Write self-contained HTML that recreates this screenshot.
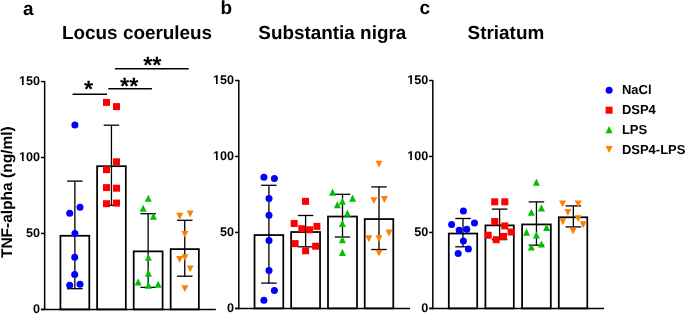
<!DOCTYPE html>
<html><head><meta charset="utf-8"><title>TNF-alpha</title>
<style>
html,body{margin:0;padding:0;background:#fff;}
body{width:685px;height:314px;overflow:hidden;}
svg{display:block;}
text{font-family:"Liberation Sans", sans-serif;fill:#000;text-rendering:geometricPrecision;}
svg{will-change:transform;}
</style></head><body>
<svg width="685" height="314" viewBox="0 0 685 314">
<rect width="685" height="314" fill="#fff"/>
<rect x="60.44" y="235.78" width="28.86" height="73.62" fill="#fff" stroke="#000" stroke-width="1.75"/>
<rect x="97.10" y="166.18" width="28.70" height="143.22" fill="#fff" stroke="#000" stroke-width="1.75"/>
<rect x="133.70" y="251.38" width="28.90" height="58.02" fill="#fff" stroke="#000" stroke-width="1.75"/>
<rect x="170.65" y="249.12" width="28.20" height="60.27" fill="#fff" stroke="#000" stroke-width="1.75"/>
<line x1="74.87" y1="181.10" x2="74.87" y2="288.70" stroke="#000" stroke-width="1.3"/>
<line x1="67.12" y1="181.10" x2="82.62" y2="181.10" stroke="#000" stroke-width="1.3"/>
<line x1="67.12" y1="288.70" x2="82.62" y2="288.70" stroke="#000" stroke-width="1.3"/>
<line x1="111.45" y1="125.20" x2="111.45" y2="205.40" stroke="#000" stroke-width="1.3"/>
<line x1="103.70" y1="125.20" x2="119.20" y2="125.20" stroke="#000" stroke-width="1.3"/>
<line x1="103.70" y1="205.40" x2="119.20" y2="205.40" stroke="#000" stroke-width="1.3"/>
<line x1="148.15" y1="213.70" x2="148.15" y2="287.40" stroke="#000" stroke-width="1.3"/>
<line x1="140.40" y1="213.70" x2="155.90" y2="213.70" stroke="#000" stroke-width="1.3"/>
<line x1="140.40" y1="287.40" x2="155.90" y2="287.40" stroke="#000" stroke-width="1.3"/>
<line x1="184.75" y1="220.30" x2="184.75" y2="276.20" stroke="#000" stroke-width="1.3"/>
<line x1="177.00" y1="220.30" x2="192.50" y2="220.30" stroke="#000" stroke-width="1.3"/>
<line x1="177.00" y1="276.20" x2="192.50" y2="276.20" stroke="#000" stroke-width="1.3"/>
<line x1="44.65" y1="81.00" x2="44.65" y2="310.15" stroke="#000" stroke-width="1.5"/>
<line x1="40.95" y1="309.40" x2="215.85" y2="309.40" stroke="#000" stroke-width="1.5"/>
<line x1="40.95" y1="309.40" x2="44.65" y2="309.40" stroke="#000" stroke-width="1.5"/>
<text x="40.10" y="313.30" font-size="12.6" font-weight="bold" text-anchor="end" >0</text>
<line x1="40.95" y1="233.45" x2="44.65" y2="233.45" stroke="#000" stroke-width="1.5"/>
<text x="40.10" y="237.35" font-size="12.6" font-weight="bold" text-anchor="end" >50</text>
<line x1="40.95" y1="157.50" x2="44.65" y2="157.50" stroke="#000" stroke-width="1.5"/>
<text x="40.10" y="161.40" font-size="12.6" font-weight="bold" text-anchor="end" >100</text>
<rect x="18.78" y="158.40" width="3.22" height="4.0" fill="#fff"/>
<rect x="23.77" y="158.40" width="2.29" height="4.0" fill="#fff"/>
<line x1="40.95" y1="81.55" x2="44.65" y2="81.55" stroke="#000" stroke-width="1.5"/>
<text x="40.10" y="85.45" font-size="12.6" font-weight="bold" text-anchor="end" >150</text>
<rect x="18.78" y="82.45" width="3.22" height="4.0" fill="#fff"/>
<rect x="23.77" y="82.45" width="2.29" height="4.0" fill="#fff"/>
<circle cx="74.90" cy="125.00" r="3.5" fill="#0000ff"/>
<circle cx="80.00" cy="207.30" r="3.5" fill="#0000ff"/>
<circle cx="69.70" cy="213.20" r="3.5" fill="#0000ff"/>
<circle cx="74.90" cy="233.60" r="3.5" fill="#0000ff"/>
<circle cx="74.70" cy="257.20" r="3.5" fill="#0000ff"/>
<circle cx="74.70" cy="274.60" r="3.5" fill="#0000ff"/>
<circle cx="69.70" cy="285.30" r="3.5" fill="#0000ff"/>
<circle cx="80.00" cy="284.30" r="3.5" fill="#0000ff"/>
<rect x="103.00" y="98.90" width="7" height="7" fill="#ff0000"/>
<rect x="113.00" y="103.10" width="7" height="7" fill="#ff0000"/>
<rect x="113.00" y="158.30" width="7" height="7" fill="#ff0000"/>
<rect x="103.00" y="166.20" width="7" height="7" fill="#ff0000"/>
<rect x="103.00" y="184.10" width="7" height="7" fill="#ff0000"/>
<rect x="113.00" y="184.70" width="7" height="7" fill="#ff0000"/>
<rect x="103.00" y="200.20" width="7" height="7" fill="#ff0000"/>
<rect x="113.00" y="199.60" width="7" height="7" fill="#ff0000"/>
<path d="M148.30 194.70L151.80 201.80L144.80 201.80Z" fill="#00c000"/>
<path d="M143.10 204.75L146.60 211.85L139.60 211.85Z" fill="#00c000"/>
<path d="M153.40 212.55L156.90 219.65L149.90 219.65Z" fill="#00c000"/>
<path d="M148.40 253.75L151.90 260.85L144.90 260.85Z" fill="#00c000"/>
<path d="M148.40 269.55L151.90 276.65L144.90 276.65Z" fill="#00c000"/>
<path d="M138.10 278.35L141.60 285.45L134.60 285.45Z" fill="#00c000"/>
<path d="M148.40 281.55L151.90 288.65L144.90 288.65Z" fill="#00c000"/>
<path d="M158.20 280.75L161.70 287.85L154.70 287.85Z" fill="#00c000"/>
<path d="M176.20 212.85L183.20 212.85L179.70 219.75Z" fill="#ff8000"/>
<path d="M186.70 210.45L193.70 210.45L190.20 217.35Z" fill="#ff8000"/>
<path d="M181.40 230.95L188.40 230.95L184.90 237.85Z" fill="#ff8000"/>
<path d="M176.20 256.05L183.20 256.05L179.70 262.95Z" fill="#ff8000"/>
<path d="M181.40 254.15L188.40 254.15L184.90 261.05Z" fill="#ff8000"/>
<path d="M186.70 265.45L193.70 265.45L190.20 272.35Z" fill="#ff8000"/>
<path d="M181.40 285.15L188.40 285.15L184.90 292.05Z" fill="#ff8000"/>
<rect x="254.52" y="235.07" width="28.75" height="73.32" fill="#fff" stroke="#000" stroke-width="1.75"/>
<rect x="291.15" y="232.03" width="28.90" height="76.37" fill="#fff" stroke="#000" stroke-width="1.75"/>
<rect x="328.00" y="216.53" width="29.00" height="91.87" fill="#fff" stroke="#000" stroke-width="1.75"/>
<rect x="364.73" y="219.07" width="28.55" height="89.32" fill="#fff" stroke="#000" stroke-width="1.75"/>
<line x1="268.90" y1="185.30" x2="268.90" y2="283.10" stroke="#000" stroke-width="1.3"/>
<line x1="261.15" y1="185.30" x2="276.65" y2="185.30" stroke="#000" stroke-width="1.3"/>
<line x1="261.15" y1="283.10" x2="276.65" y2="283.10" stroke="#000" stroke-width="1.3"/>
<line x1="305.60" y1="215.50" x2="305.60" y2="246.80" stroke="#000" stroke-width="1.3"/>
<line x1="297.85" y1="215.50" x2="313.35" y2="215.50" stroke="#000" stroke-width="1.3"/>
<line x1="297.85" y1="246.80" x2="313.35" y2="246.80" stroke="#000" stroke-width="1.3"/>
<line x1="342.50" y1="194.30" x2="342.50" y2="237.00" stroke="#000" stroke-width="1.3"/>
<line x1="334.75" y1="194.30" x2="350.25" y2="194.30" stroke="#000" stroke-width="1.3"/>
<line x1="334.75" y1="237.00" x2="350.25" y2="237.00" stroke="#000" stroke-width="1.3"/>
<line x1="379.00" y1="186.90" x2="379.00" y2="249.50" stroke="#000" stroke-width="1.3"/>
<line x1="371.25" y1="186.90" x2="386.75" y2="186.90" stroke="#000" stroke-width="1.3"/>
<line x1="371.25" y1="249.50" x2="386.75" y2="249.50" stroke="#000" stroke-width="1.3"/>
<line x1="238.80" y1="79.95" x2="238.80" y2="309.15" stroke="#000" stroke-width="1.5"/>
<line x1="235.10" y1="308.40" x2="410.00" y2="308.40" stroke="#000" stroke-width="1.5"/>
<line x1="235.10" y1="308.40" x2="238.80" y2="308.40" stroke="#000" stroke-width="1.5"/>
<text x="234.10" y="312.30" font-size="12.6" font-weight="bold" text-anchor="end" >0</text>
<line x1="235.10" y1="232.43" x2="238.80" y2="232.43" stroke="#000" stroke-width="1.5"/>
<text x="234.10" y="236.33" font-size="12.6" font-weight="bold" text-anchor="end" >50</text>
<line x1="235.10" y1="156.47" x2="238.80" y2="156.47" stroke="#000" stroke-width="1.5"/>
<text x="234.10" y="160.37" font-size="12.6" font-weight="bold" text-anchor="end" >100</text>
<rect x="212.78" y="157.37" width="3.22" height="4.0" fill="#fff"/>
<rect x="217.77" y="157.37" width="2.29" height="4.0" fill="#fff"/>
<line x1="235.10" y1="80.50" x2="238.80" y2="80.50" stroke="#000" stroke-width="1.5"/>
<text x="234.10" y="84.40" font-size="12.6" font-weight="bold" text-anchor="end" >150</text>
<rect x="212.78" y="81.40" width="3.22" height="4.0" fill="#fff"/>
<rect x="217.77" y="81.40" width="2.29" height="4.0" fill="#fff"/>
<circle cx="263.90" cy="177.30" r="3.5" fill="#0000ff"/>
<circle cx="274.40" cy="178.60" r="3.5" fill="#0000ff"/>
<circle cx="269.00" cy="198.50" r="3.5" fill="#0000ff"/>
<circle cx="269.00" cy="215.20" r="3.5" fill="#0000ff"/>
<circle cx="269.00" cy="240.60" r="3.5" fill="#0000ff"/>
<circle cx="269.00" cy="270.60" r="3.5" fill="#0000ff"/>
<circle cx="274.40" cy="290.50" r="3.5" fill="#0000ff"/>
<circle cx="263.90" cy="300.30" r="3.5" fill="#0000ff"/>
<rect x="302.05" y="197.85" width="7" height="7" fill="#ff0000"/>
<rect x="290.70" y="220.00" width="7" height="7" fill="#ff0000"/>
<rect x="313.40" y="222.90" width="7" height="7" fill="#ff0000"/>
<rect x="298.30" y="225.20" width="7" height="7" fill="#ff0000"/>
<rect x="306.00" y="226.30" width="7" height="7" fill="#ff0000"/>
<rect x="291.60" y="240.10" width="7" height="7" fill="#ff0000"/>
<rect x="312.10" y="242.70" width="7" height="7" fill="#ff0000"/>
<rect x="302.10" y="247.30" width="7" height="7" fill="#ff0000"/>
<path d="M332.50 188.55L336.00 195.65L329.00 195.65Z" fill="#00c000"/>
<path d="M352.60 194.55L356.10 201.65L349.10 201.65Z" fill="#00c000"/>
<path d="M342.40 197.65L345.90 204.75L338.90 204.75Z" fill="#00c000"/>
<path d="M337.30 201.25L340.80 208.35L333.80 208.35Z" fill="#00c000"/>
<path d="M347.40 209.55L350.90 216.65L343.90 216.65Z" fill="#00c000"/>
<path d="M342.40 219.85L345.90 226.95L338.90 226.95Z" fill="#00c000"/>
<path d="M342.40 236.10L345.90 243.20L338.90 243.20Z" fill="#00c000"/>
<path d="M342.40 248.85L345.90 255.95L338.90 255.95Z" fill="#00c000"/>
<path d="M375.50 160.65L382.50 160.65L379.00 167.55Z" fill="#ff8000"/>
<path d="M370.40 197.15L377.40 197.15L373.90 204.05Z" fill="#ff8000"/>
<path d="M380.90 196.05L387.90 196.05L384.40 202.95Z" fill="#ff8000"/>
<path d="M385.50 229.60L392.50 229.60L389.00 236.50Z" fill="#ff8000"/>
<path d="M365.40 235.35L372.40 235.35L368.90 242.25Z" fill="#ff8000"/>
<path d="M375.50 235.35L382.50 235.35L379.00 242.25Z" fill="#ff8000"/>
<path d="M375.50 249.65L382.50 249.65L379.00 256.55Z" fill="#ff8000"/>
<rect x="448.80" y="233.53" width="28.40" height="74.87" fill="#fff" stroke="#000" stroke-width="1.75"/>
<rect x="485.40" y="225.38" width="28.40" height="83.02" fill="#fff" stroke="#000" stroke-width="1.75"/>
<rect x="522.10" y="224.43" width="28.70" height="83.97" fill="#fff" stroke="#000" stroke-width="1.75"/>
<rect x="558.80" y="217.28" width="28.50" height="91.12" fill="#fff" stroke="#000" stroke-width="1.75"/>
<line x1="463.00" y1="218.50" x2="463.00" y2="246.80" stroke="#000" stroke-width="1.3"/>
<line x1="455.25" y1="218.50" x2="470.75" y2="218.50" stroke="#000" stroke-width="1.3"/>
<line x1="455.25" y1="246.80" x2="470.75" y2="246.80" stroke="#000" stroke-width="1.3"/>
<line x1="499.60" y1="209.10" x2="499.60" y2="239.60" stroke="#000" stroke-width="1.3"/>
<line x1="491.85" y1="209.10" x2="507.35" y2="209.10" stroke="#000" stroke-width="1.3"/>
<line x1="491.85" y1="239.60" x2="507.35" y2="239.60" stroke="#000" stroke-width="1.3"/>
<line x1="536.45" y1="201.90" x2="536.45" y2="245.20" stroke="#000" stroke-width="1.3"/>
<line x1="528.70" y1="201.90" x2="544.20" y2="201.90" stroke="#000" stroke-width="1.3"/>
<line x1="528.70" y1="245.20" x2="544.20" y2="245.20" stroke="#000" stroke-width="1.3"/>
<line x1="573.35" y1="205.90" x2="573.35" y2="226.90" stroke="#000" stroke-width="1.3"/>
<line x1="565.60" y1="205.90" x2="581.10" y2="205.90" stroke="#000" stroke-width="1.3"/>
<line x1="565.60" y1="226.90" x2="581.10" y2="226.90" stroke="#000" stroke-width="1.3"/>
<line x1="432.80" y1="79.95" x2="432.80" y2="309.15" stroke="#000" stroke-width="1.5"/>
<line x1="429.10" y1="308.40" x2="604.00" y2="308.40" stroke="#000" stroke-width="1.5"/>
<line x1="429.10" y1="308.40" x2="432.80" y2="308.40" stroke="#000" stroke-width="1.5"/>
<text x="428.20" y="312.30" font-size="12.6" font-weight="bold" text-anchor="end" >0</text>
<line x1="429.10" y1="232.43" x2="432.80" y2="232.43" stroke="#000" stroke-width="1.5"/>
<text x="428.20" y="236.33" font-size="12.6" font-weight="bold" text-anchor="end" >50</text>
<line x1="429.10" y1="156.47" x2="432.80" y2="156.47" stroke="#000" stroke-width="1.5"/>
<text x="428.20" y="160.37" font-size="12.6" font-weight="bold" text-anchor="end" >100</text>
<rect x="406.88" y="157.37" width="3.22" height="4.0" fill="#fff"/>
<rect x="411.87" y="157.37" width="2.29" height="4.0" fill="#fff"/>
<line x1="429.10" y1="80.50" x2="432.80" y2="80.50" stroke="#000" stroke-width="1.5"/>
<text x="428.20" y="84.40" font-size="12.6" font-weight="bold" text-anchor="end" >150</text>
<rect x="406.88" y="81.40" width="3.22" height="4.0" fill="#fff"/>
<rect x="411.87" y="81.40" width="2.29" height="4.0" fill="#fff"/>
<circle cx="463.40" cy="210.90" r="3.5" fill="#0000ff"/>
<circle cx="451.60" cy="224.50" r="3.5" fill="#0000ff"/>
<circle cx="474.50" cy="222.90" r="3.5" fill="#0000ff"/>
<circle cx="459.20" cy="230.20" r="3.5" fill="#0000ff"/>
<circle cx="466.80" cy="229.20" r="3.5" fill="#0000ff"/>
<circle cx="463.40" cy="241.10" r="3.5" fill="#0000ff"/>
<circle cx="468.40" cy="248.90" r="3.5" fill="#0000ff"/>
<circle cx="458.20" cy="253.50" r="3.5" fill="#0000ff"/>
<rect x="491.20" y="198.30" width="7" height="7" fill="#ff0000"/>
<rect x="501.30" y="198.30" width="7" height="7" fill="#ff0000"/>
<rect x="491.20" y="218.00" width="7" height="7" fill="#ff0000"/>
<rect x="501.30" y="222.40" width="7" height="7" fill="#ff0000"/>
<rect x="507.60" y="228.50" width="7" height="7" fill="#ff0000"/>
<rect x="484.70" y="231.80" width="7" height="7" fill="#ff0000"/>
<rect x="500.00" y="232.90" width="7" height="7" fill="#ff0000"/>
<rect x="492.70" y="236.20" width="7" height="7" fill="#ff0000"/>
<path d="M536.40 178.55L539.90 185.65L532.90 185.65Z" fill="#00c000"/>
<path d="M541.40 204.35L544.90 211.45L537.90 211.45Z" fill="#00c000"/>
<path d="M531.30 208.75L534.80 215.85L527.80 215.85Z" fill="#00c000"/>
<path d="M546.60 223.85L550.10 230.95L543.10 230.95Z" fill="#00c000"/>
<path d="M526.50 228.55L530.00 235.65L523.00 235.65Z" fill="#00c000"/>
<path d="M536.40 231.45L539.90 238.55L532.90 238.55Z" fill="#00c000"/>
<path d="M541.40 240.45L544.90 247.55L537.90 247.55Z" fill="#00c000"/>
<path d="M531.30 243.45L534.80 250.55L527.80 250.55Z" fill="#00c000"/>
<path d="M559.10 200.45L566.10 200.45L562.60 207.35Z" fill="#ff8000"/>
<path d="M574.70 200.45L581.70 200.45L578.20 207.35Z" fill="#ff8000"/>
<path d="M564.40 209.05L571.40 209.05L567.90 215.95Z" fill="#ff8000"/>
<path d="M574.70 215.35L581.70 215.35L578.20 222.25Z" fill="#ff8000"/>
<path d="M559.40 218.35L566.40 218.35L562.90 225.25Z" fill="#ff8000"/>
<path d="M579.70 221.25L586.70 221.25L583.20 228.15Z" fill="#ff8000"/>
<path d="M569.60 227.70L576.60 227.70L573.10 234.60Z" fill="#ff8000"/>
<line x1="72.60" y1="94.25" x2="107.00" y2="94.25" stroke="#000" stroke-width="1.5"/>
<text x="88.50" y="96.50" font-size="23.5" font-weight="bold" text-anchor="middle" >*</text>
<line x1="108.30" y1="88.65" x2="151.90" y2="88.65" stroke="#000" stroke-width="1.5"/>
<text x="129.20" y="94.05" font-size="23.5" font-weight="bold" text-anchor="middle" >**</text>
<line x1="114.90" y1="68.85" x2="188.70" y2="68.85" stroke="#000" stroke-width="1.5"/>
<text x="152.30" y="73.30" font-size="23.5" font-weight="bold" text-anchor="middle" >**</text>
<text x="62.00" y="39.00" font-size="18.9" font-weight="bold" text-anchor="start" >Locus coeruleus</text>
<text x="258.30" y="39.00" font-size="18.9" font-weight="bold" text-anchor="start" >Substantia nigra</text>
<text x="467.60" y="39.00" font-size="18.9" font-weight="bold" text-anchor="start" >Striatum</text>
<text x="22.90" y="14.60" font-size="19" font-weight="bold" text-anchor="start" >a</text>
<text x="220.50" y="13.60" font-size="19" font-weight="bold" text-anchor="start" >b</text>
<text x="419.40" y="14.20" font-size="19" font-weight="bold" text-anchor="start" >c</text>
<text transform="translate(11.6,192.2) rotate(-90)" x="0" y="0" font-size="15.5" font-weight="bold" text-anchor="middle">TNF-alpha (ng/ml)</text>
<circle cx="609.10" cy="90.30" r="3.5" fill="#0000ff"/>
<rect x="605.60" y="106.70" width="7" height="7" fill="#ff0000"/>
<path d="M609.10 126.10L612.60 133.20L605.60 133.20Z" fill="#00c000"/>
<path d="M605.60 146.00L612.60 146.00L609.10 152.90Z" fill="#ff8000"/>
<text x="621.90" y="94.40" font-size="13" font-weight="bold" text-anchor="start" >NaCl</text>
<text x="621.90" y="114.40" font-size="13" font-weight="bold" text-anchor="start" >DSP4</text>
<text x="621.90" y="134.30" font-size="13" font-weight="bold" text-anchor="start" >LPS</text>
<text x="621.90" y="153.50" font-size="13" font-weight="bold" text-anchor="start" >DSP4-LPS</text>
</svg>
</body></html>
